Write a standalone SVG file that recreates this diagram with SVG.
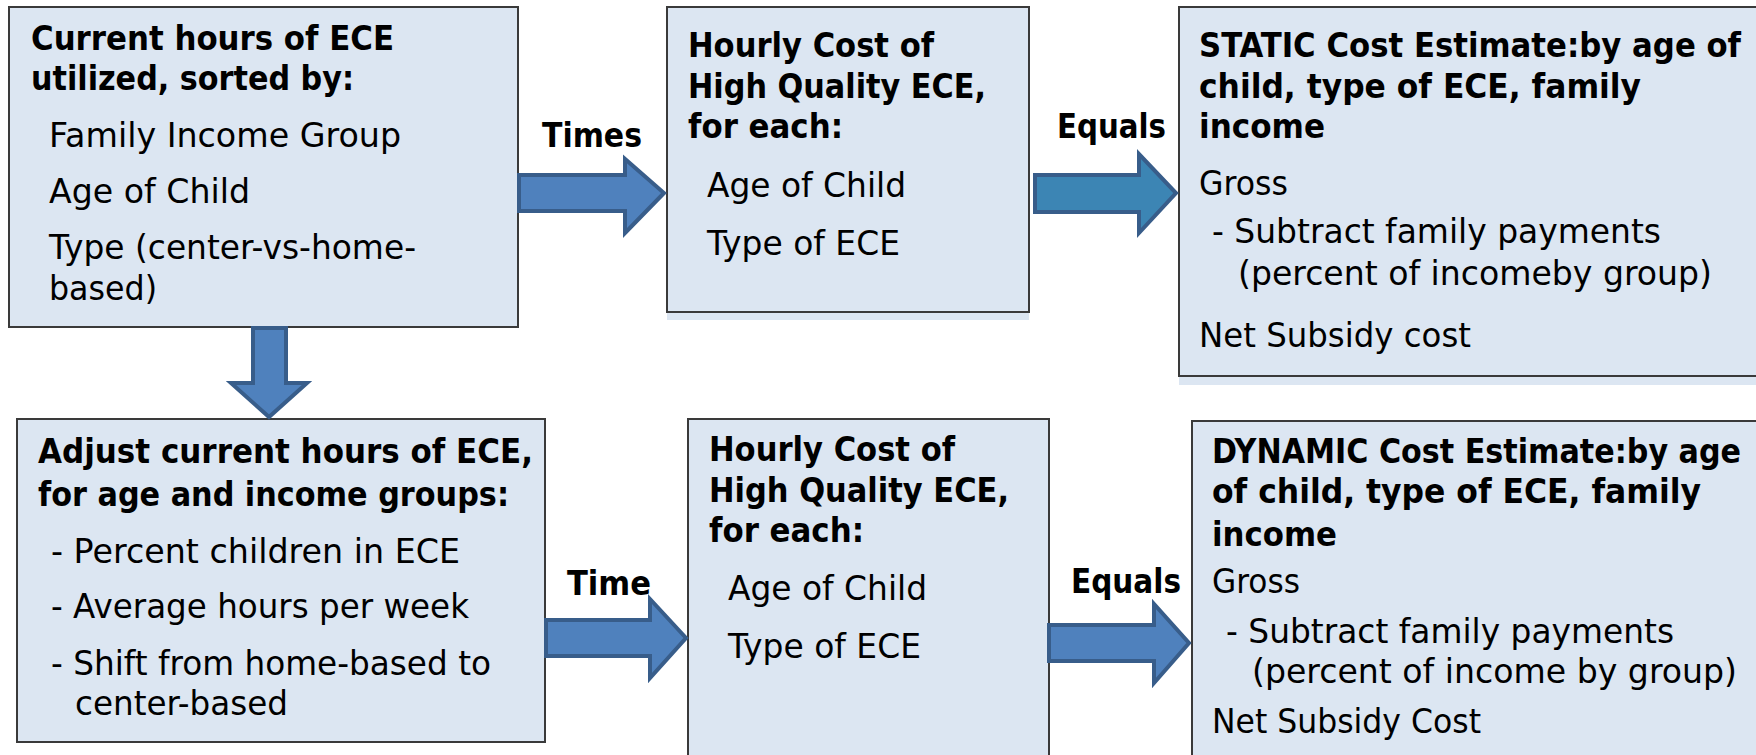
<svg xmlns="http://www.w3.org/2000/svg" width="1756" height="755" viewBox="0 0 1756 755">
<style>
.box{fill:#dce6f2;stroke:#3a3a3a;stroke-width:2}
.strip{fill:#dce6f2}
.arr{fill:#4f81bd;stroke:#385d8a;stroke-width:4;stroke-linejoin:miter}
.arr2{fill:#3c85b4;stroke:#385d8a;stroke-width:4;stroke-linejoin:miter}
.b{font-family:"DejaVu Sans Condensed","DejaVu Sans",sans-serif;font-weight:bold;font-stretch:condensed;font-size:34px;fill:#000}
.r{font-family:"DejaVu Sans",sans-serif;font-size:33px;fill:#000}
</style>
<rect width="1756" height="755" fill="#ffffff"/>
<g id="node-current">
<rect class="box" x="9" y="7" width="509" height="320"/>
<text class="b" x="31" y="50" textLength="363" lengthAdjust="spacingAndGlyphs">Current hours of ECE</text>
<text class="b" x="31" y="90" textLength="323" lengthAdjust="spacingAndGlyphs">utilized, sorted by:</text>
<text class="r" x="49" y="147" textLength="352" lengthAdjust="spacingAndGlyphs">Family Income Group</text>
<text class="r" x="49" y="203" textLength="201" lengthAdjust="spacingAndGlyphs">Age of Child</text>
<text class="r" x="49" y="259" textLength="367" lengthAdjust="spacingAndGlyphs">Type (center-vs-home-</text>
<text class="r" x="49" y="300" textLength="108" lengthAdjust="spacingAndGlyphs">based)</text>
</g>
<g id="node-hourly-top">
<rect class="strip" x="667" y="312" width="362" height="8"/>
<rect class="box" x="667" y="7" width="362" height="305"/>
<text class="b" x="688" y="57" textLength="246" lengthAdjust="spacingAndGlyphs">Hourly Cost of</text>
<text class="b" x="688" y="98" textLength="298" lengthAdjust="spacingAndGlyphs">High Quality ECE,</text>
<text class="b" x="688" y="138" textLength="155" lengthAdjust="spacingAndGlyphs">for each:</text>
<text class="r" x="707" y="197" textLength="199" lengthAdjust="spacingAndGlyphs">Age of Child</text>
<text class="r" x="707" y="255" textLength="193" lengthAdjust="spacingAndGlyphs">Type of ECE</text>
</g>
<g id="node-static">
<rect class="strip" x="1179" y="376" width="600" height="9"/>
<rect class="box" x="1179" y="7" width="600" height="369"/>
<text class="b" x="1199" y="57" textLength="542" lengthAdjust="spacingAndGlyphs">STATIC Cost Estimate:by age of</text>
<text class="b" x="1199" y="98" textLength="442" lengthAdjust="spacingAndGlyphs">child, type of ECE, family</text>
<text class="b" x="1199" y="138" textLength="126" lengthAdjust="spacingAndGlyphs">income</text>
<text class="r" x="1199" y="195" textLength="89" lengthAdjust="spacingAndGlyphs">Gross</text>
<text class="r" x="1212" y="243" textLength="449" lengthAdjust="spacingAndGlyphs">- Subtract family payments</text>
<text class="r" x="1238" y="285" textLength="474" lengthAdjust="spacingAndGlyphs">(percent of incomeby group)</text>
<text class="r" x="1199" y="347" textLength="272" lengthAdjust="spacingAndGlyphs">Net Subsidy cost</text>
</g>
<g id="node-adjust">
<rect class="box" x="17" y="419" width="528" height="323"/>
<text class="b" x="38" y="463" textLength="495" lengthAdjust="spacingAndGlyphs">Adjust current hours of ECE,</text>
<text class="b" x="38" y="506" textLength="471" lengthAdjust="spacingAndGlyphs">for age and income groups:</text>
<text class="r" x="51" y="563" textLength="409" lengthAdjust="spacingAndGlyphs">- Percent children in ECE</text>
<text class="r" x="51" y="618" textLength="418" lengthAdjust="spacingAndGlyphs">- Average hours per week</text>
<text class="r" x="51" y="675" textLength="440" lengthAdjust="spacingAndGlyphs">- Shift from home-based to</text>
<text class="r" x="75" y="715" textLength="213" lengthAdjust="spacingAndGlyphs">center-based</text>
</g>
<g id="node-hourly-bottom">
<rect class="box" x="688" y="419" width="361" height="400"/>
<text class="b" x="709" y="461" textLength="246" lengthAdjust="spacingAndGlyphs">Hourly Cost of</text>
<text class="b" x="709" y="502" textLength="300" lengthAdjust="spacingAndGlyphs">High Quality ECE,</text>
<text class="b" x="709" y="542" textLength="155" lengthAdjust="spacingAndGlyphs">for each:</text>
<text class="r" x="728" y="600" textLength="199" lengthAdjust="spacingAndGlyphs">Age of Child</text>
<text class="r" x="728" y="658" textLength="193" lengthAdjust="spacingAndGlyphs">Type of ECE</text>
</g>
<g id="node-dynamic">
<rect class="box" x="1192" y="421" width="600" height="400"/>
<text class="b" x="1212" y="463" textLength="529" lengthAdjust="spacingAndGlyphs">DYNAMIC Cost Estimate:by age</text>
<text class="b" x="1212" y="503" textLength="489" lengthAdjust="spacingAndGlyphs">of child, type of ECE, family</text>
<text class="b" x="1212" y="546" textLength="125" lengthAdjust="spacingAndGlyphs">income</text>
<text class="r" x="1212" y="593" textLength="88" lengthAdjust="spacingAndGlyphs">Gross</text>
<text class="r" x="1226" y="643" textLength="448" lengthAdjust="spacingAndGlyphs">- Subtract family payments</text>
<text class="r" x="1252" y="683" textLength="485" lengthAdjust="spacingAndGlyphs">(percent of income by group)</text>
<text class="r" x="1212" y="733" textLength="269" lengthAdjust="spacingAndGlyphs">Net Subsidy Cost</text>
</g>
<g id="connectors">
<polygon class="arr" points="519,175 625,175 625,159 664,193 625,233 625,211 519,211"/>
<text class="b" x="542" y="147" textLength="100" lengthAdjust="spacingAndGlyphs">Times</text>
<polygon class="arr2" points="1035,175 1139,175 1139,154 1176,193 1139,233 1139,212 1035,212"/>
<text class="b" x="1057" y="138" textLength="109" lengthAdjust="spacingAndGlyphs">Equals</text>
<polygon class="arr" points="253,328 286,328 286,383 307,383 269,417 231,383 253,383"/>
<polygon class="arr" points="546,620 650,620 650,599 686,638 650,678 650,656 546,656"/>
<text class="b" x="567" y="595" textLength="84" lengthAdjust="spacingAndGlyphs">Time</text>
<polygon class="arr" points="1049,625 1154,625 1154,604 1189,643 1154,683 1154,661 1049,661"/>
<text class="b" x="1071" y="593" textLength="110" lengthAdjust="spacingAndGlyphs">Equals</text>
</g>
</svg>
